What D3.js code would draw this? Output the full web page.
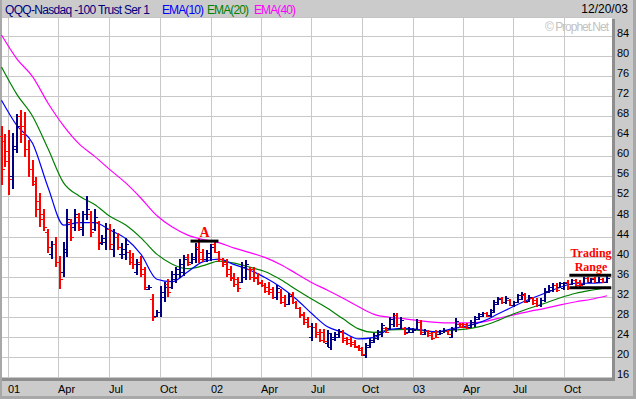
<!DOCTYPE html>
<html><head><meta charset="utf-8">
<script src="https://cdn.jsdelivr.net/npm/d3@7"></script>
<style>html,body{margin:0;padding:0;background:#fff}svg{display:block}</style>
</head><body><svg id="c" width="636" height="399"></svg>
<script>
// ---------- DATA ----------
const firstWeek = "2000-12-18";           // Monday of first weekly bar
const highs = [66.1,64.5,65.3,64.6,68.4,69.2,68.8,63.3,59.3,55.9,52.7,49.5,45.5,43.1,43.9,40.1,42.9,49.5,47.5,49.5,
 48.7,49.1,52.1,49.1,49.5,47.1,44.3,46.7,46.5,45.5,44.7,42.7,43.7,41.3,40.7,39.5,40.1,37.9,34.3,32.5,
 29.4,34.1,35.0,35.5,37.2,38.0,39.5,40.3,40.5,40.7,42.8,43.5,41.5,41.3,42.5,42.9,41.2,39.7,39.5,38.1,
 36.8,36.0,39.0,39.3,38.0,38.0,36.8,35.3,34.7,35.0,34.0,34.3,33.5,32.3,32.8,33.0,31.2,30.0,29.0,28.0,
 26.7,26.7,25.5,25.5,25.4,24.7,25.0,25.5,25.4,24.0,23.9,23.4,22.4,22.0,22.7,23.7,24.7,25.4,26.8,26.0,
 28.0,28.7,28.8,28.0,26.0,26.0,25.7,27.5,27.4,25.5,25.4,25.0,25.4,25.4,25.7,25.4,26.0,27.7,26.7,26.8,
 26.8,27.4,28.2,28.8,29.0,29.0,29.5,31.4,31.9,32.0,32.1,31.6,31.2,32.6,33.0,32.7,32.4,32.0,31.7,31.7,
 33.7,34.35,34.7,34.7,35.0,35.0,35.3,35.5,35.5,35.3,36.0,36.0,35.7,36.0,35.9,35.7,36.1];
const lows = [54.3,57.9,52.3,53.5,60.7,62.7,59.9,55.9,54.1,47.9,45.9,45.1,40.7,39.5,37.9,33.6,36.0,39.9,43.1,45.1,
 45.1,44.1,47.3,43.9,45.1,41.3,42.3,41.3,41.3,39.9,41.3,39.5,39.3,38.3,37.5,36.3,35.9,33.4,33.4,27.1,
 27.9,27.9,31.0,32.0,33.5,34.7,35.7,36.1,38.1,38.5,38.7,38.8,39.0,39.0,39.2,40.7,38.9,38.0,35.9,35.1,
 34.0,33.0,34.7,35.3,35.3,35.0,34.3,34.0,32.8,32.3,31.5,31.3,30.6,30.0,30.3,30.6,29.5,27.8,26.4,25.7,
 23.1,23.7,22.9,22.7,22.0,21.4,23.1,23.7,22.7,22.4,22.0,21.7,21.1,20.2,19.7,21.7,22.7,23.4,24.0,24.7,
 25.4,26.0,26.0,25.5,24.4,24.7,24.7,25.4,24.4,24.4,24.0,23.4,23.7,24.4,24.7,24.4,23.7,25.0,25.7,25.7,
 25.5,25.7,26.0,27.4,27.9,27.9,28.0,28.7,30.3,30.6,30.6,30.2,30.0,30.8,31.3,30.7,31.0,30.4,30.0,30.0,
 31.0,32.7,33.0,33.0,33.7,33.35,33.35,34.35,34.0,34.0,34.35,34.7,34.7,34.7,34.8,34.7,34.7];
const opens = [64.0,63.0,61.0,56.0,62.0,68.0,66.0,61.5,57.5,54.5,51.0,48.5,45.0,40.5,42.5,39.0,37.0,41.0,47.0,46.0,
 48.0,45.5,48.5,48.5,45.5,47.0,42.8,43.0,45.5,41.5,44.0,40.5,40.5,41.0,40.0,37.0,39.0,37.5,33.6,31.5,
 28.2,29.0,32.0,34.5,34.0,35.5,36.5,37.0,40.0,39.0,39.5,42.0,41.0,39.5,40.0,42.5,41.0,39.5,39.0,37.5,
 36.0,35.5,35.0,36.0,37.5,37.5,36.0,35.0,34.3,34.0,33.5,32.0,33.0,32.0,30.6,32.5,31.0,29.8,28.5,27.5,
 24.0,26.0,25.0,25.0,22.8,22.0,23.5,24.0,25.0,23.8,23.5,23.0,22.2,21.7,20.3,22.0,23.0,23.8,24.6,25.8,
 25.8,26.5,28.3,25.8,25.8,24.9,24.9,25.6,27.0,24.6,25.2,24.7,25.0,24.5,24.8,25.2,24.0,25.5,26.5,26.6,
 26.5,26.0,26.5,27.6,28.1,28.8,28.3,29.0,30.6,31.7,30.9,31.4,30.3,31.0,31.6,32.4,31.2,31.8,31.4,30.3,
 31.4,33.0,33.3,34.4,33.9,33.8,35.0,34.5,35.3,35.0,34.6,35.8,34.9,35.8,35.0,35.5,34.9];
const closes = [57.5,59.0,55.5,61.5,66.0,64.5,61.5,57.5,55.0,49.5,47.5,46.0,42.0,42.5,39.0,35.5,41.5,47.5,44.0,48.5,
 46.0,48.5,49.5,45.0,48.0,43.0,43.8,45.5,42.5,44.0,42.0,41.5,42.5,39.0,38.5,38.5,36.5,34.0,34.0,28.0,
 29.0,33.0,34.0,33.0,36.5,37.5,38.5,39.5,38.5,40.0,41.5,39.5,39.5,40.8,42.0,41.0,39.5,38.5,36.5,35.8,
 34.5,33.8,38.0,38.5,36.0,35.8,34.8,34.3,33.2,33.0,32.0,33.8,31.0,30.5,32.2,31.0,29.8,28.3,27.0,26.2,
 26.0,24.5,23.3,23.2,24.8,24.0,24.6,25.2,23.3,22.8,22.5,22.0,21.4,20.6,22.3,23.4,24.3,25.0,26.3,25.0,
 27.5,28.3,26.6,27.3,24.8,25.6,25.4,27.0,25.0,25.2,24.3,23.8,24.0,25.1,25.4,24.6,25.6,27.2,25.9,25.9,
 25.8,27.0,27.9,28.5,28.8,28.1,29.3,31.0,31.6,30.9,31.8,30.4,31.0,32.3,32.6,31.0,32.0,30.8,30.4,31.4,
 33.2,34.0,34.4,33.4,34.8,34.7,33.7,35.3,34.4,34.3,35.7,35.0,35.5,34.9,35.6,34.9,35.8];
// moving averages, one value every 4 weeks (week 0,4,8,...,156)
const emaStepWeeks = 4;
const ema10 = [71.2,66.1,62.6,53.8,46.3,46.8,46.8,45.3,43.6,40.4,35.5,35.0,37.0,39.0,39.5,38.4,37.3,35.8,33.9,31.5,
 28.6,26.0,24.9,23.6,23.9,25.5,25.7,25.4,25.0,25.6,26.2,27.1,28.6,30.1,31.5,32.7,33.9,34.7,34.7,34.9];
const ema20 = [77.8,72.3,68.0,61.5,54.7,52.1,50.4,48.0,46.3,43.7,40.5,38.5,37.6,38.2,39.1,38.7,37.9,37.0,35.4,33.4,
 31.5,29.7,27.6,25.6,24.9,25.4,25.5,25.3,25.0,25.3,25.6,26.2,27.3,28.6,29.7,30.7,31.8,32.7,33.3,33.8];
const ema40 = [84.2,79.4,75.9,70.6,66.1,62.5,60.0,57.3,54.7,51.6,48.2,45.9,44.3,43.4,42.8,41.7,40.8,39.8,38.4,36.6,
 34.8,33.3,31.7,30.0,28.5,27.9,27.6,27.2,26.9,26.8,26.8,27.0,27.7,28.4,29.1,29.7,30.4,31.0,31.5,32.2];
const yTicks = [16,20,24,28,32,36,40,44,48,52,56,60,64,68,72,76,80,84];
const xTickDates = ["2001-01-01","2001-04-01","2001-07-01","2001-10-01","2002-01-01","2002-04-01","2002-07-01",
 "2002-10-01","2003-01-01","2003-04-01","2003-07-01","2003-10-01"];
const xTickLabels = ["01","Apr","Jul","Oct","02","Apr","Jul","Oct","03","Apr","Jul","Oct"];
const titleText = "QQQ-Nasdaq -100 Trust Ser 1";
const legendItems = [["EMA(10)","#0000ff"],["EMA(20)","#008000"],["EMA(40)","#ff00ff"]];
const dateText = "12/20/03";
const watermark = "\u00a9 Prophet.Net";
// annotations (week index span, price)
const annA = {label:"A", from:48.7, to:55.9, price:43.1};
const annRange = {lines:["Trading","Range"], from:146.3, to:157.1, top:36.3, bottom:33.8};

// ---------- DRAW ----------
const svg = d3.select("#c");
const W=636,H=399, L=2, R=612, T=17, B=378;
const parse = d3.timeParse("%Y-%m-%d");
const week0 = parse(firstWeek);
const weekDate = i => d3.timeDay.offset(week0, Math.round(i*7));
const lastDate = weekDate(highs.length-1);
const x = d3.scaleTime().domain([week0, lastDate]).range([1.5, 607]);
const y = d3.scaleLinear().domain([16,84]).range([377,36]);
const xw = i => x(week0) + (x(lastDate)-x(week0)) * i/(highs.length-1);

// backgrounds
svg.append("rect").attr("width",W).attr("height",H).attr("fill","#cbcbcb");
svg.append("rect").attr("x",L).attr("y",T).attr("width",R-L).attr("height",B-T).attr("fill","#ffffff");
// frame strips
svg.append("rect").attr("x",0).attr("y",0).attr("width",2).attr("height",H).attr("fill","#a8a8a8");
svg.append("rect").attr("x",W-3).attr("y",0).attr("width",3).attr("height",H).attr("fill","#a8a8a8");
svg.append("rect").attr("x",0).attr("y",H-3).attr("width",W).attr("height",3).attr("fill","#a8a8a8");
svg.append("rect").attr("x",R).attr("y",T+2).attr("width",3).attr("height",B-T+1).attr("fill","#8e8e8e");
svg.append("rect").attr("x",L).attr("y",B).attr("width",R-L+3).attr("height",3).attr("fill","#8e8e8e");
svg.append("line").attr("x1",L).attr("x2",R).attr("y1",T+0.5).attr("y2",T+0.5).attr("stroke","#c4c4c4");

const grid = svg.append("g").attr("shape-rendering","crispEdges").attr("stroke","#c8c8c8").attr("stroke-width",1);
yTicks.forEach(v=>{
  const yy = Math.round(y(v))+0.5;
  if (yy < B) grid.append("line").attr("x1",L).attr("x2",R).attr("y1",yy).attr("y2",yy);
});
xTickDates.forEach(d=>{
  const xx = Math.round(x(parse(d)))-0.5;
  grid.append("line").attr("x1",xx).attr("x2",xx).attr("y1",T+1).attr("y2",B);
});

// watermark
svg.append("text").attr("x",545).attr("y",31).attr("font-family","Liberation Sans, Arial, sans-serif")
  .attr("font-size",12).attr("fill","#c2c2c2").attr("textLength",64).text(watermark);

// EMAs
const emaLine = d3.line().x((d,i)=>xw(i*emaStepWeeks)).y(d=>y(d)).curve(d3.curveMonotoneX);
[[ema40,"#ff00ff"],[ema20,"#008000"],[ema10,"#0000ff"]].forEach(([arr,col])=>{
  svg.append("path").datum(arr).attr("d",emaLine).attr("fill","none").attr("stroke",col).attr("stroke-width",1.2);
});

// OHLC bars
const bars = svg.append("g").attr("shape-rendering","crispEdges");
highs.forEach((h,i)=>{
  const col = closes[i] >= opens[i] ? "#000080" : "#ff0000";
  const xx = Math.round(xw(i));
  bars.append("rect").attr("x",xx-1).attr("y",y(h)).attr("width",2).attr("height",Math.max(1,y(lows[i])-y(h))).attr("fill",col);
  bars.append("rect").attr("x",xx-3).attr("y",Math.round(y(opens[i]))).attr("width",2).attr("height",1).attr("fill",col);
  bars.append("rect").attr("x",xx+1).attr("y",Math.round(y(closes[i]))).attr("width",2).attr("height",1).attr("fill",col);
});

// annotations
const annFont = "Liberation Serif, Times New Roman, serif";
svg.append("line").attr("x1",xw(annA.from)).attr("x2",xw(annA.to)).attr("y1",y(annA.price)).attr("y2",y(annA.price))
  .attr("stroke","#000").attr("stroke-width",3);
svg.append("text").attr("x",(xw(annA.from)+xw(annA.to))/2).attr("y",y(annA.price)-4).attr("text-anchor","middle")
  .attr("font-family",annFont).attr("font-weight","bold").attr("font-size",14).attr("fill","#ff0000").text(annA.label);
[annRange.top, annRange.bottom].forEach(p=>{
  svg.append("line").attr("x1",xw(annRange.from)).attr("x2",Math.min(R,xw(annRange.to))).attr("y1",y(p)).attr("y2",y(p))
    .attr("stroke","#000").attr("stroke-width",3);
});
const cxR = 591;
svg.append("text").attr("x",cxR).attr("y",257).attr("text-anchor","middle")
  .attr("font-family",annFont).attr("font-weight","bold").attr("font-size",12).attr("fill","#ff0000").text(annRange.lines[0]);
svg.append("text").attr("x",cxR).attr("y",271).attr("text-anchor","middle")
  .attr("font-family",annFont).attr("font-weight","bold").attr("font-size",12).attr("fill","#ff0000").text(annRange.lines[1]);

// axes labels
const axFont = "Liberation Sans, Arial, sans-serif";
yTicks.forEach(v=>{
  svg.append("text").attr("x",617).attr("y",Math.round(y(v))+1).attr("font-family",axFont).attr("font-size",11)
    .attr("fill","#000").text(v);
});
xTickDates.forEach((d,i)=>{
  svg.append("text").attr("x",Math.round(x(parse(d)))-1).attr("y",393).attr("font-family",axFont).attr("font-size",11)
    .attr("fill","#000").text(xTickLabels[i]);
});

// title & legend
svg.append("text").attr("x",5).attr("y",14).attr("font-family",axFont).attr("font-size",12).attr("fill","#000080")
  .attr("textLength",145).text(titleText);
const legX = [162,207,254];
legendItems.forEach(([t,c],i)=>{
  svg.append("text").attr("x",legX[i]).attr("y",14).attr("font-family",axFont).attr("font-size",12).attr("fill",c)
    .attr("textLength",42).text(t);
});
svg.append("text").attr("x",628).attr("y",13).attr("text-anchor","end").attr("font-family",axFont).attr("font-size",12)
  .attr("fill","#000").text(dateText);
</script></body></html>
